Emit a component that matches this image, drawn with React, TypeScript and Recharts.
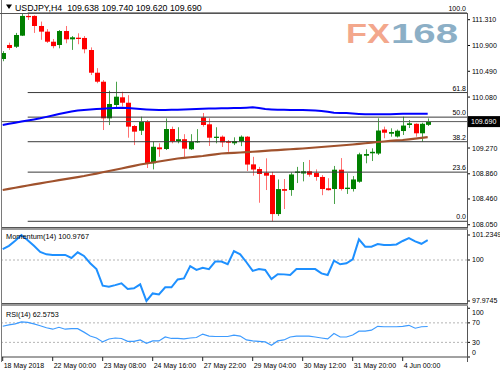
import React from 'react';
import { ComposedChart, Bar, Line, XAxis, YAxis, ReferenceLine } from 'recharts';

const FONT = '"Liberation Sans", Arial, sans-serif';

// bar labels along the time axis (every 8th H4 bar)
const TIME_TICKS = [0, 8, 16, 24, 32, 40, 48, 56, 64];
const TIME_LABELS = [
    '18 May 2018', '22 May 00:00', '23 May 08:00', '24 May 16:00', '27 May 22:00',
    '29 May 04:00', '30 May 12:00', '31 May 20:00', '4 Jun 00:00',
];

const OPEN = [
    110.685, 110.908, 110.88, 111.056, 111.37, 111.37, 111.21, 111.12, 110.96, 110.908,
    111.13, 110.998, 111.024, 111.02, 110.828, 110.467, 110.324, 109.742, 109.954, 110.076,
    109.99, 109.62, 109.545, 109.688, 109.027, 109.28, 109.254, 109.572, 109.38, 109.41,
    109.25, 109.36, 109.755, 109.647, 109.43, 109.45, 109.376, 109.345, 109.376, 109.45,
    109.01, 108.936, 108.877, 108.84, 108.22, 108.617, 108.602, 108.873, 108.865, 108.9,
    108.872, 108.81, 108.63, 108.618, 108.925, 108.618, 108.618, 108.734, 109.147, 109.186,
    109.182, 109.564, 109.497, 109.453, 109.54, 109.636, 109.655, 109.504, 109.638,
];
const HIGH = [
    110.81, 110.945, 111.1, 111.4, 111.417, 111.38, 111.28, 111.16, 111.003, 111.146,
    111.21, 111.05, 111.094, 111.05, 110.87, 110.54, 110.35, 110.18, 110.324, 110.165,
    110.11, 109.636, 109.768, 109.715, 109.37, 109.345, 109.74, 109.61, 109.6, 109.49,
    109.49, 109.57, 109.826, 109.742, 109.6, 109.47, 109.397, 109.44, 109.47, 109.46,
    109.13, 108.97, 109.106, 108.89, 108.77, 108.777, 108.88, 108.97, 109.047, 109.08,
    108.93, 108.84, 108.79, 108.985, 109.11, 108.87, 108.824, 109.195, 109.25, 109.265,
    109.742, 109.61, 109.583, 109.564, 109.768, 109.715, 109.663, 109.672, 109.74,
];
const LOW = [
    110.65, 110.83, 110.86, 111.05, 111.305, 111.1, 110.99, 110.94, 110.855, 110.855,
    110.935, 110.83, 110.92, 110.776, 110.43, 110.3, 109.556, 109.635, 109.9, 109.93,
    109.434, 109.317, 109.477, 108.952, 108.93, 109.13, 109.238, 109.345, 109.345, 109.127,
    109.238, 109.354, 109.61, 109.302, 109.345, 109.286, 109.21, 109.317, 109.3, 108.905,
    108.83, 108.4, 108.602, 108.105, 108.19, 108.3, 108.51, 108.713, 108.74, 108.814,
    108.75, 108.52, 108.594, 108.38, 108.594, 108.54, 108.578, 108.718, 109.027, 109.063,
    109.16, 109.425, 109.45, 109.437, 109.477, 109.588, 109.45, 109.37, 109.62,
];
const CLOSE = [
    110.78, 110.86, 111.067, 111.37, 111.35, 111.21, 111.12, 110.96, 110.89, 111.13,
    110.998, 111.03, 111.003, 110.84, 110.467, 110.324, 109.742, 109.97, 110.086, 109.99,
    109.61, 109.53, 109.688, 109.027, 109.29, 109.25, 109.572, 109.374, 109.41, 109.26,
    109.37, 109.38, 109.636, 109.434, 109.45, 109.36, 109.354, 109.38, 109.45, 109.007,
    108.928, 108.857, 108.83, 108.22, 108.617, 108.59, 108.85, 108.897, 108.9, 108.846,
    108.81, 108.618, 108.6, 108.925, 108.618, 108.64, 108.77, 109.17, 109.175, 109.21,
    109.548, 109.513, 109.524, 109.545, 109.627, 109.663, 109.504, 109.655, 109.69,
];

// moving averages
const MA_BLUE = [
    109.636, 109.655, 109.672, 109.69, 109.708, 109.725, 109.742, 109.765, 109.787, 109.81,
    109.83, 109.849, 109.867, 109.875, 109.883, 109.89, 109.896, 109.902, 109.907, 109.91,
    109.905, 109.897, 109.89, 109.884, 109.879, 109.876, 109.874, 109.877, 109.88, 109.884,
    109.887, 109.89, 109.894, 109.897, 109.9, 109.902, 109.903, 109.905, 109.906, 109.912,
    109.917, 109.905, 109.89, 109.884, 109.879, 109.877, 109.876, 109.875, 109.874, 109.87,
    109.865, 109.86, 109.845, 109.83, 109.828, 109.826, 109.818, 109.812, 109.806, 109.806,
    109.806, 109.806, 109.806, 109.81, 109.814, 109.816, 109.816, 109.816, 109.816,
];
const MA_BROWN = [
    108.603, 108.621, 108.638, 108.656, 108.674, 108.691, 108.709, 108.726, 108.742, 108.759,
    108.775, 108.792, 108.808, 108.825, 108.845, 108.864, 108.884, 108.904, 108.924, 108.944,
    108.965, 108.987, 109.008, 109.024, 109.04, 109.056, 109.072, 109.087, 109.103, 109.113,
    109.123, 109.133, 109.143, 109.156, 109.17, 109.183, 109.188, 109.194, 109.199, 109.205,
    109.211, 109.218, 109.225, 109.231, 109.238, 109.244, 109.25, 109.256, 109.262, 109.27,
    109.278, 109.286, 109.294, 109.302, 109.31, 109.318, 109.326, 109.336, 109.346, 109.356,
    109.366, 109.374, 109.382, 109.39, 109.397, 109.408, 109.42, 109.431, 109.442,
];

const MOMENTUM = [
    100.54, 100.7, 100.95, 101.2349, 100.98, 100.7, 100.4, 100.28, 100.25, 100.25,
    100.25, 100.1, 100.38, 100.2, 99.84, 99.55, 98.73, 98.68, 98.76, 98.85,
    98.57, 98.6, 98.8, 97.9745, 98.35, 98.3, 98.65, 98.65, 99.04, 99.09,
    99.7, 99.51, 99.62, 99.55, 99.92, 99.92, 99.79, 100.44, 100.28, 99.89,
    99.46, 99.55, 99.51, 99.06, 99.3, 99.29, 99.26, 99.55, 99.55, 99.55,
    99.55, 99.34, 99.26, 99.97, 99.79, 99.84, 100.03, 101.02, 100.66, 100.66,
    100.79, 100.74, 100.74, 100.77, 100.94, 101.08, 100.92, 100.8, 100.9767,
];
const RSI = [
    63, 66, 68, 72, 71, 68, 64, 60, 57, 61,
    57, 58, 58, 51, 43, 39, 31, 37, 39, 38,
    32, 32, 35, 28, 33, 33, 41, 38, 38, 37,
    39, 40, 47, 43, 42, 42, 42, 45, 43, 35,
    33, 32, 31, 24, 33, 35, 41, 43, 43, 43,
    41, 39, 37, 48, 41, 41, 45, 53, 53, 55,
    63, 62, 62, 62, 63, 65, 59, 62, 62.5753,
];

const PRICE_TICKS = [111.31, 110.9, 110.49, 110.08, 109.27, 108.86, 108.46, 108.05];
const MOM_TICKS = [97.9745, 100, 101.2349];
const RSI_TICKS = [0, 30, 70, 100];
const FIB_LEVELS = [0, 23.6, 38.2, 50, 61.8, 100];
const SWING_HIGH_BAR = 4;
const SWING_LOW_BAR = 43;

const X_DOMAIN: [number, number] = [-0.112, 74.288];
const LAST = CLOSE.length - 1;

const rows = OPEN.map((open, i) => ({
    i,
    open,
    high: HIGH[i],
    low: LOW[i],
    close: CLOSE[i],
    range: [LOW[i], HIGH[i]],
    maBlue: MA_BLUE[i],
    maBrown: MA_BROWN[i],
    mom: MOMENTUM[i],
    rsi: RSI[i],
}));

const fibHigh = HIGH[SWING_HIGH_BAR];
const fibLow = LOW[SWING_LOW_BAR];
const fibPrice = (lvl: number) => fibLow + (fibHigh - fibLow) * lvl / 100;

function Candle(props: any) {
    const { x, y, width, height, payload } = props;
    if (x == null || y == null || !payload) return null;
    const top = Math.min(y, y + height);
    const bot = Math.max(y, y + height);
    const { open, close, high, low } = payload;
    const span = high - low || 1;
    const px = (v: number) => top + ((high - v) / span) * (bot - top);
    const cx = Math.round(x + width / 2) + 0.5;
    const up = close >= open;
    const bTop = px(Math.max(open, close));
    const bBot = px(Math.min(open, close));
    return (
        <g>
            <line x1={cx} x2={cx} y1={top} y2={bot} stroke={up ? '#4aa24a' : '#ff7070'} strokeWidth={1} />
            <rect x={cx - 2.5} y={bTop} width={5} height={Math.max(1.2, bBot - bTop)} fill={up ? '#008000' : '#ff0000'} />
        </g>
    );
}

function FibLabel(props: any) {
    const vb = props.viewBox || {};
    const right = (vb.x ?? 0) + (vb.width ?? 0) - 1;
    return (
        <text x={right} y={(vb.y ?? 0) - 2} textAnchor="end" fontSize={7} fontFamily={FONT} fill="#000">
            {props.text}
        </text>
    );
}

function PriceTag(props: any) {
    const vb = props.viewBox || {};
    const x = (vb.x ?? 0) + (vb.width ?? 0);
    const y = vb.y ?? 0;
    return (
        <g>
            <rect x={x} y={y - 5.5} width={33} height={11} fill="#000" />
            <text x={x + 4} y={y + 2.6} fontSize={7} fontFamily={FONT} fill="#fff">
                {CLOSE[LAST].toFixed(3)}
            </text>
        </g>
    );
}

function RsiTick(props: any) {
    const { x, y, payload } = props;
    const v = payload.value;
    const dy = v === 100 ? 4 : v === 0 ? -4 : 0;
    return (
        <text x={x} y={y + dy} dy="0.355em" textAnchor="start" fontSize={7} fontFamily={FONT} fill="#000">
            {v}
        </text>
    );
}

function TimeTick(props: any) {
    const { x, y, payload } = props;
    const idx = TIME_TICKS.indexOf(payload.value);
    return (
        <text x={x + 1} y={y} dy="0.71em" textAnchor="start" fontSize={7} fontFamily={FONT} fill="#000">
            {TIME_LABELS[idx] ?? ''}
        </text>
    );
}

const axisTick = { fontSize: 7, fill: '#000', fontFamily: FONT };

export default function App() {
    return (
        <div style={{ position: 'absolute', left: 0, top: 0, width: 500, height: 375, background: '#fff', overflow: 'hidden' }}>
            {/* watermark */}
            <svg width={500} height={375} style={{ position: 'absolute', left: 0, top: 0 }}>
                <text x={346} y={43} fontSize={28} fontWeight="bold" fontFamily={FONT} fill="#f3a78c" textLength={44} lengthAdjust="spacingAndGlyphs">FX</text>
                <text x={391} y={43} fontSize={28} fontWeight="bold" fontFamily={FONT} fill="#8cafc6" textLength={67} lengthAdjust="spacingAndGlyphs">168</text>
            </svg>

            {/* price panel */}
            <div style={{ position: 'absolute', left: 0, top: 0 }}>
                <ComposedChart width={500} height={227} data={rows} margin={{ top: 13, right: 0, bottom: 0, left: 2 }}>
                    <XAxis type="number" dataKey="i" domain={X_DOMAIN} allowDataOverflow hide />
                    <YAxis
                        orientation="right"
                        width={33}
                        domain={[108.0143, 111.4165]}
                        allowDataOverflow
                        ticks={PRICE_TICKS}
                        interval={0}
                        tickFormatter={(v: number) => v.toFixed(3)}
                        tick={axisTick}
                        tickSize={3}
                        tickMargin={2}
                        tickLine={{ stroke: '#000' }}
                        axisLine={false}
                    />
                    {FIB_LEVELS.map((lvl) => (
                        <ReferenceLine
                            key={lvl}
                            segment={[{ x: SWING_HIGH_BAR, y: fibPrice(lvl) }, { x: X_DOMAIN[1], y: fibPrice(lvl) }]}
                            stroke="#3a3a3a"
                            strokeWidth={1}
                            ifOverflow="visible"
                            label={(p: any) => <FibLabel {...p} text={lvl.toFixed(1)} />}
                        />
                    ))}
                    <ReferenceLine
                        segment={[{ x: SWING_HIGH_BAR, y: fibHigh }, { x: SWING_LOW_BAR, y: fibLow }]}
                        stroke="#ff5a5a"
                        strokeDasharray="2 3"
                        strokeWidth={1}
                    />
                    <ReferenceLine y={CLOSE[LAST]} stroke="#5a5a5a" strokeWidth={1} label={(p: any) => <PriceTag {...p} />} />
                    <Bar dataKey="range" barSize={5} shape={(p: any) => <Candle {...p} />} isAnimationActive={false} />
                    <Line type="linear" dataKey="maBrown" stroke="#a0522d" strokeWidth={2.2} dot={false} isAnimationActive={false} />
                    <Line type="linear" dataKey="maBlue" stroke="#0000ff" strokeWidth={2} dot={false} isAnimationActive={false} />
                </ComposedChart>
            </div>

            {/* momentum panel */}
            <div style={{ position: 'absolute', left: 0, top: 230 }}>
                <ComposedChart width={500} height={73} data={rows} margin={{ top: 0, right: 0, bottom: 0, left: 2 }}>
                    <XAxis type="number" dataKey="i" domain={X_DOMAIN} allowDataOverflow hide />
                    <YAxis
                        orientation="right"
                        width={33}
                        domain={[97.876, 101.482]}
                        allowDataOverflow
                        ticks={MOM_TICKS}
                        interval={0}
                        tickFormatter={(v: number) => (v === 100 ? '100' : v.toFixed(4))}
                        tick={axisTick}
                        tickSize={3}
                        tickMargin={2}
                        tickLine={{ stroke: '#000' }}
                        axisLine={false}
                    />
                    <ReferenceLine y={100} stroke="#b4b4b4" strokeDasharray="2 2" />
                    <Line type="linear" dataKey="mom" stroke="#1e90ff" strokeWidth={2} dot={false} isAnimationActive={false} />
                </ComposedChart>
            </div>

            {/* RSI panel with time axis */}
            <div style={{ position: 'absolute', left: 0, top: 306 }}>
                <ComposedChart width={500} height={69} data={rows} margin={{ top: 0, right: 0, bottom: 0, left: 2 }}>
                    <XAxis
                        type="number"
                        dataKey="i"
                        domain={X_DOMAIN}
                        allowDataOverflow
                        ticks={TIME_TICKS}
                        interval={0}
                        height={18}
                        tickSize={4}
                        tickMargin={2}
                        tick={(p: any) => <TimeTick {...p} />}
                        tickLine={{ stroke: '#222' }}
                        axisLine={{ stroke: '#444' }}
                    />
                    <YAxis
                        orientation="right"
                        width={33}
                        domain={[0, 104.6]}
                        allowDataOverflow
                        ticks={RSI_TICKS}
                        interval={0}
                        tick={(p: any) => <RsiTick {...p} />}
                        tickSize={3}
                        tickMargin={2}
                        tickLine={{ stroke: '#000' }}
                        axisLine={false}
                    />
                    <ReferenceLine y={70} stroke="#b4b4b4" strokeDasharray="2 2" />
                    <ReferenceLine y={30} stroke="#b4b4b4" strokeDasharray="2 2" />
                    <Line type="linear" dataKey="rsi" stroke="#3d9bff" strokeWidth={1.2} dot={false} isAnimationActive={false} />
                </ComposedChart>
            </div>

            {/* frame, separators and captions */}
            <svg width={500} height={375} style={{ position: 'absolute', left: 0, top: 0, pointerEvents: 'none' }}>
                <line x1={1.5} x2={1.5} y1={0} y2={362} stroke="#7a7a7a" />
                <line x1={0} x2={467} y1={13.5} y2={13.5} stroke="#555" />
                <line x1={467.5} x2={467.5} y1={13} y2={362} stroke="#555" />
                <rect x={2} y={227} width={466} height={3} fill="#9a9a9a" />
                <line x1={2} x2={468} y1={227.5} y2={227.5} stroke="#555" />
                <rect x={2} y={303} width={466} height={3} fill="#9a9a9a" />
                <line x1={2} x2={468} y1={303.5} y2={303.5} stroke="#555" />
                <polygon points="6,4.5 12,4.5 9,9" fill="#000" />
                <text x={15} y={10.5} fontSize={8.8} fontFamily={FONT} fill="#000" style={{ whiteSpace: 'pre' }}>
                    {`USDJPY,H4  ${OPEN[LAST].toFixed(3)} ${HIGH[LAST].toFixed(3)} ${LOW[LAST].toFixed(3)} ${CLOSE[LAST].toFixed(3)}`}
                </text>
                <text x={6} y={238.5} fontSize={7.4} fontFamily={FONT} fill="#000">
                    {`Momentum(14) ${MOMENTUM[LAST].toFixed(4)}`}
                </text>
                <text x={6} y={316.5} fontSize={7.2} fontFamily={FONT} fill="#000">
                    {`RSI(14) ${RSI[LAST].toFixed(4)}`}
                </text>
            </svg>
        </div>
    );
}
